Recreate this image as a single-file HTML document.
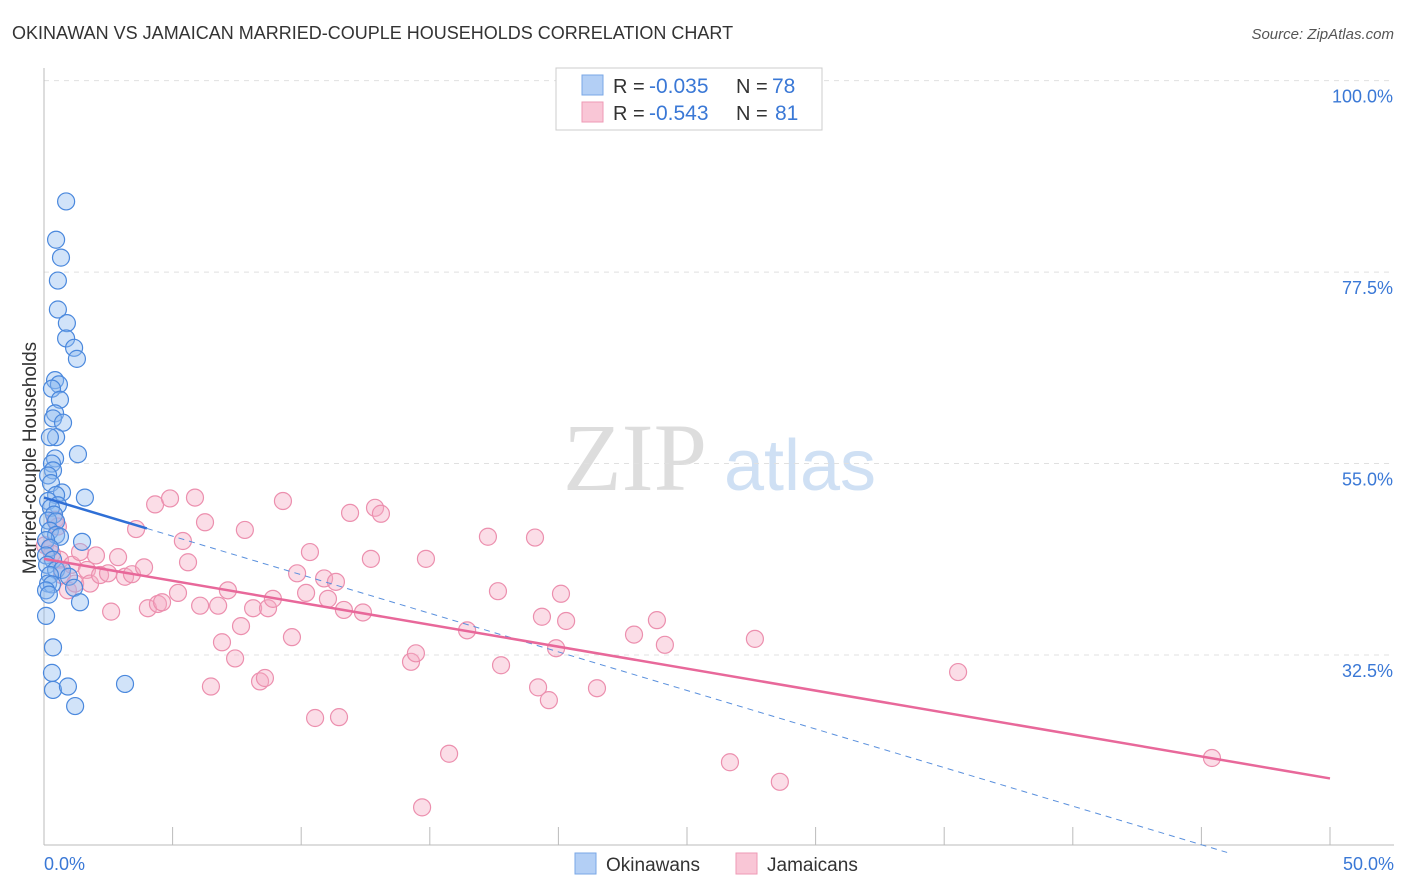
<!DOCTYPE html>
<html><head><meta charset="utf-8"><style>
body{margin:0;background:#fff;font-family:"Liberation Sans",sans-serif;}
svg{display:block}
</style></head><body>
<svg id="chart" width="1406" height="892">
<text x="12" y="39" font-size="18" fill="#333">OKINAWAN VS JAMAICAN MARRIED-COUPLE HOUSEHOLDS CORRELATION CHART</text>
<text x="1394" y="39" font-size="15" fill="#555" text-anchor="end" font-style="italic">Source: ZipAtlas.com</text>
<g><text x="635" y="490" font-size="96" fill="#ddd" text-anchor="middle" font-family="Liberation Serif,serif">ZIP</text><text x="800" y="490" font-size="72" fill="#cfe0f4" text-anchor="middle">atlas</text></g>
<g id="grid"></g>
<line x1="44" y1="68" x2="44" y2="845" stroke="#bbb"/>
<line x1="44" y1="845" x2="1394" y2="845" stroke="#bbb"/>
<text x="36" y="458" font-size="19" fill="#333" text-anchor="middle" transform="rotate(-90 36 458)">Married-couple Households</text>
<text x="44" y="870" font-size="18" fill="#3a78d6">0.0%</text>
<text x="1394" y="870" font-size="18" fill="#3a78d6" text-anchor="end">50.0%</text>
<g id="points"></g>
<g id="lines"></g>
<g>
<rect x="556" y="68" width="266" height="62" fill="#fff" stroke="#ccc"/>
<rect x="582" y="75" width="21" height="20" fill="#b3cff5" stroke="#7aa7e6"/>
<rect x="582" y="102" width="21" height="20" fill="#f9c6d6" stroke="#ee9ab5"/>
<text x="613" y="93" font-size="20" fill="#333">R =</text>
<text x="649" y="93" font-size="21" fill="#3a78d6">-0.035</text>
<text x="736" y="93" font-size="20" fill="#333">N =</text>
<text x="772" y="93" font-size="21" fill="#3a78d6">78</text>
<text x="613" y="120" font-size="20" fill="#333">R =</text>
<text x="649" y="120" font-size="21" fill="#3a78d6">-0.543</text>
<text x="736" y="120" font-size="20" fill="#333">N =</text>
<text x="775" y="120" font-size="21" fill="#3a78d6">81</text>
</g>
<g>
<rect x="575" y="853" width="21" height="21" fill="#b3cff5" stroke="#7aa7e6"/>
<text x="606" y="871" font-size="19" fill="#333">Okinawans</text>
<rect x="736" y="853" width="21" height="21" fill="#f9c6d6" stroke="#ee9ab5"/>
<text x="767" y="871" font-size="19" fill="#333">Jamaicans</text>
</g>
</svg>
<script>
const yTicks=[100,77.5,55,32.5];
const xTickCount=11;
const okinawaX=[0.86,0.47,0.66,0.54,0.54,0.89,0.86,1.17,1.28,0.43,0.58,0.31,0.62,0.43,0.35,0.74,0.47,0.23,1.32,0.43,0.31,0.35,0.16,0.27,0.7,1.59,0.47,0.16,0.54,0.27,0.39,0.16,0.47,0.23,0.47,0.62,0.08,1.48,0.23,0.08,0.35,0.12,0.47,0.7,0.23,0.97,0.16,0.31,1.17,0.08,0.19,1.4,0.08,0.35,0.31,0.35,0.93,3.15,1.21];
const okinawaY=[85.8,81.3,79.2,76.5,73.1,71.5,69.7,68.6,67.3,64.8,64.3,63.8,62.5,60.9,60.3,59.8,58.1,58.1,56.1,55.6,55.0,54.2,53.6,52.7,51.6,51.0,51.3,50.6,50.1,49.8,49.0,48.3,48.2,47.1,46.6,46.4,46.0,45.8,45.1,44.2,43.7,43.1,42.5,42.5,41.9,41.7,40.9,40.8,40.4,40.1,39.6,38.7,37.1,33.4,30.4,28.4,28.8,29.1,26.5];
const jamaicaX=[0.04,0.23,0.43,0.54,0.31,0.62,0.70,0.93,1.09,1.21,1.40,1.67,1.79,2.02,2.18,2.49,2.61,2.88,3.15,3.42,3.58,3.89,4.04,4.32,4.43,4.59,4.90,5.21,5.40,5.60,5.87,6.07,6.26,6.49,6.77,6.92,7.15,7.43,7.66,7.81,8.13,8.40,8.59,8.71,8.90,9.29,9.64,9.84,10.19,10.34,10.54,10.89,11.04,11.35,11.47,11.66,11.90,12.40,12.71,12.87,13.10,14.27,14.46,14.70,14.85,15.75,16.45,17.26,17.65,17.77,19.09,19.21,19.36,19.63,19.91,20.10,20.30,21.50,22.94,23.83,24.14,26.67,27.64,28.61,35.54,45.41];
const jamaicaY=[45.4,45.0,48.4,47.6,44.4,43.7,41.9,40.1,43.1,40.9,44.6,42.5,40.9,44.2,41.9,42.1,37.6,44.0,41.7,42.0,47.3,42.8,38.0,50.2,38.5,38.7,50.9,39.8,45.9,43.4,51.0,38.3,48.1,28.8,38.3,34.0,40.1,32.1,35.9,47.2,38.0,29.4,29.8,38.0,39.1,50.6,34.6,42.1,39.8,44.6,25.1,41.5,39.1,41.1,25.2,37.8,49.2,37.5,43.8,49.8,49.1,31.7,32.7,14.6,43.8,20.9,35.4,46.4,40.0,31.3,46.3,28.7,37.0,27.2,33.3,39.7,36.5,28.6,34.9,36.6,33.7,19.9,34.4,17.6,30.5,20.4];
const blueTrend=[[0,51.0],[46,9.3]];
const pinkTrend=[[0,43.8],[50,18.0]];
const X0=44,X1=1330,YB=931.6,YS=8.51;
const xs=v=>X0+v*(X1-X0)/50, ys=v=>YB-v*YS;
const NS="http://www.w3.org/2000/svg";
const grid=document.getElementById('grid');
yTicks.forEach(t=>{
 const l=document.createElementNS(NS,'line');
 l.setAttribute('x1',44);l.setAttribute('x2',1394);l.setAttribute('y1',ys(t));l.setAttribute('y2',ys(t));
 l.setAttribute('stroke','#e0e0e0');l.setAttribute('stroke-dasharray','5,5');
 
 
 grid.appendChild(l);
 const tx=document.createElementNS(NS,'text');
 tx.setAttribute('x',1393);tx.setAttribute('y',ys(t)+22);tx.setAttribute('text-anchor','end');
 tx.setAttribute('font-size','18');tx.setAttribute('fill','#3a78d6');tx.textContent=t.toFixed(1)+'%';
 
 
 grid.appendChild(tx);
});
for(let i=0;i<xTickCount;i++){
 const l=document.createElementNS(NS,'line');
 const x=xs(i*5);
 l.setAttribute('x1',x);l.setAttribute('x2',x);l.setAttribute('y1',827);l.setAttribute('y2',845);
 l.setAttribute('stroke','#bbb');
 
 
 grid.appendChild(l);
}
const pts=document.getElementById('points');
function dots(X,Y,fill,stroke,name){
 X.forEach((v,i)=>{
  const c=document.createElementNS(NS,'circle');
  c.setAttribute('cx',xs(v));c.setAttribute('cy',ys(Y[i]));c.setAttribute('r',8.5);
  c.setAttribute('fill',fill);c.setAttribute('stroke',stroke);c.setAttribute('stroke-width','1.2');
  
  
  pts.appendChild(c);
 });
}
dots(jamaicaX,jamaicaY,'rgba(246,170,195,0.4)','#ec8fae','jamaican-point');
dots(okinawaX,okinawaY,'rgba(140,185,240,0.4)','#4a88dd','okinawan-point');
const lg=document.getElementById('lines');
function seg(a,b,col,w,dash,name){
 const l=document.createElementNS(NS,'line');
 l.setAttribute('x1',xs(a[0]));l.setAttribute('y1',ys(a[1]));l.setAttribute('x2',xs(b[0]));l.setAttribute('y2',ys(b[1]));
 l.setAttribute('stroke',col);l.setAttribute('stroke-width',w);if(dash)l.setAttribute('stroke-dasharray',dash);
 
 
 lg.appendChild(l);
}
const bm=[4,blueTrend[0][1]+(blueTrend[1][1]-blueTrend[0][1])*4/blueTrend[1][0]];
seg(blueTrend[0],bm,'#2f6fd6',2.5,null,'okinawan-trendline');
seg(bm,blueTrend[1],'#5a90dd',1,'6,5','okinawan-trendline-extension');
seg(pinkTrend[0],pinkTrend[1],'#e8689a',2.5,null,'jamaican-trendline');
</script>
</body></html>
